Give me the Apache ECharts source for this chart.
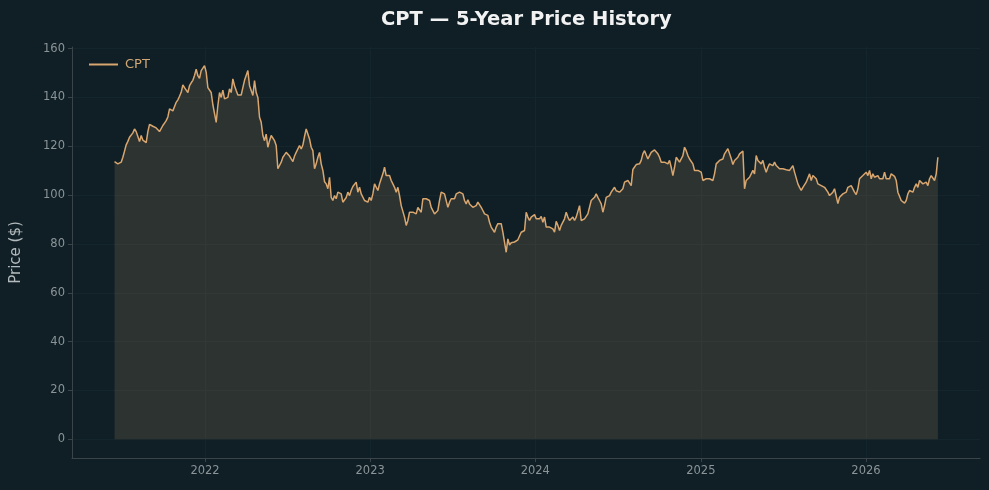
<!DOCTYPE html>
<html>
<head>
<meta charset="utf-8">
<script src="https://cdn.jsdelivr.net/npm/echarts@6/dist/echarts.min.js"></script>
<style>
html,body{margin:0;padding:0;background:#0f1f25;}
#chart{width:989px;height:490px;}
</style>
</head>
<body>
<div id="chart"></div>
<script>
const seriesName = 'CPT';
const startDate = '2021-06-15';
const stepDays = 3.684;
const prices = [
113.7,113.2,112.8,113.5,113.5,115.5,118,120.6,122,123.7,124.5,125.5,127.1,126,124,121.9,124.4,
122.5,121.7,121.5,126,129,129.5,128.2,127.8,127.5,126.8,126,125.7,128.5,129.5,130.5,132,135.3,135.2,134.5,134,
138,139,140.5,142.1,145.1,144,143,142,144.8,146,147,149,151.6,148.9,147.8,151,152,153,150.3,144,
144,142,137,136.5,129.8,136.7,142,140,143,139.4,139.5,140,143.5,142,147.6,144.8,142.8,141,141.5,141,
144,147,146.2,151,144.8,142.8,140.8,146.9,142,140,131.9,129.8,124.4,122.3,125,119.6,122.3,124.4,124.4,122.3,
120.3,110.8,110,113.5,115.5,116.5,117.5,116.8,116,114.8,113.7,116,117.5,118.2,120.3,118.9,120.5,124,127.1,127.5,
123,119.6,118.2,110.8,112.8,115.5,117.5,112.8,110.1,105.5,104.6,102.6,107.3,99.1,97.8,99.8,98.5,101.2,101.8,100.5,
97.1,96.4,99,101.2,99.8,102,103.5,104.2,105.3,101.2,103.2,100.5,101.2,97.8,98.5,97.1,99.1,97.8,100.5,104.6,
103.9,101.9,104.6,106.7,108.7,111.4,108,108.7,108,106,104.6,103.2,101.2,103.2,99.8,95.7,95.7,91,87.6,89.6,
93,93.7,93,93.7,92.3,95,94.3,93,98.5,99.1,98.5,98.8,97.8,95,95.7,92.3,93,93.7,97.8,101.2,
100.5,100.5,99.8,95,97.1,98.5,99.1,98.5,100.5,100.5,101.2,101.6,100.5,97.8,96.4,98.1,96.4,95.7,95,94.6,
95.7,97.1,96.4,95,93.7,92.3,93,91.7,88.9,86.9,86.2,84.8,86.9,88.3,88.9,88.3,84.8,84.8,76.6,82.1,
79.6,80.5,80.8,80.8,81.5,81.7,82.1,84.8,85.5,85.5,93,91,89.6,91,91.6,92,90.3,91,90.3,91.3,
88.9,91,86.9,87.6,86.9,86.2,86.2,84.8,89.3,87.6,85.5,87.6,88.3,90.3,93,91,89.6,90.3,91,89.6,
91,90.3,95.7,89.6,88.9,90.3,91,92.3,93,97.8,98.5,99.1,100.5,99.1,97.8,96.4,93,95.7,99.1,99.5,
99.8,101.2,101.8,103.2,101.8,102.6,101.2,101.8,102.6,105.3,106,106,105.3,103.9,110.5,110.5,112.5,112.8,112.8,114.2,
116.9,118.2,118.9,114.8,116.2,117.5,116.9,118.5,118.9,116.9,115.5,113.5,112.8,113.5,114.2,112.8,114.2,111.4,108,111.4,
115.5,116.2,113.5,114.8,116.2,119.6,118.2,116.2,114.8,114.2,112.8,110.1,110.8,110.1,110.8,109.4,106,105.3,106.7,107.3,
106.7,107.3,106,108.7,112.8,113.5,114.2,113.5,114.8,116.9,117.5,119,118.5,115,112.5,114.2,114.2,115.5,116.9,117.5,
118,102.6,106,106.7,107.3,108.7,110.1,108.7,116.2,114.2,114.8,112.8,114.2,111.4,109.4,111.4,112.8,113,112.1,113.5,
112.1,111.4,110.8,110.1,110.8,110.1,110.4,110.8,110.1,110.8,112.1,109.4,110.1,104.6,103.2,101.9,103.2,103.9,105.3,107,
108.7,106,108,108,106.7,104.6,105.3,103.9,104.6,103.2,103.9,101.2,99.8,99.8,101.2,102.6,101.9,96.5,99.1,99.8,
100.5,100.5,101.2,103.2,103.9,103.9,103.2,101.2,100.2,102.6,106.7,107.3,108,108.7,109.4,108,110.1,106.7,108.7,107.3,
106.7,108,106.7,107.3,106.7,109.4,106.7,107.3,106.7,108.7,108,107.7,106,101.2,100.5,97.8,97.1,96.7,97.8,100.5,
101.9,101.9,101.2,103.2,104.6,103.2,106,105.3,104.6,105.3,105.3,103.9,106.7,108,107.3,106,108.7,115.5
];
const yearTicks = [2022, 2023, 2024, 2025, 2026];
const yTicks = [0, 20, 40, 60, 80, 100, 120, 140, 160];
const xRange = ['2021-03-13', '2026-09-10'];
const yRange = [-7.65, 160.65];

const DAY = 86400000;
const startMs = Date.parse(startDate + 'T00:00:00Z');
const seriesData = prices.map((v, i) => [startMs + i * stepDays * DAY, v]);
const xTickMs = yearTicks.map(y => Date.UTC(y, 0, 1));

const lineColor = '#d9a66f';
const axisColor = '#3b4549';
const gridColor = '#14252b';
const labelColor = '#8b9497';

const chart = echarts.init(document.getElementById('chart'), null, {renderer: 'canvas'});
chart.setOption({
  animation: false,
  backgroundColor: '#0f1f25',
  title: {
    text: 'CPT — 5-Year Price History',
    left: 376,
    top: 5,
    textStyle: {color: '#f2f2f2', fontSize: 19.5, fontWeight: 'bold', fontFamily: 'DejaVu Sans'}
  },
  legend: {
    left: 84,
    top: 53,
    itemWidth: 29,
    itemHeight: 2,
    itemGap: 10,
    data: [{name: seriesName, icon: 'rect'}],
    textStyle: {color: '#d2a877', fontSize: 13, fontFamily: 'DejaVu Sans', padding: [0, 0, 0, 2]}
  },
  grid: {left: 72, right: 9, top: 47, bottom: 32, containLabel: false},
  xAxis: {
    type: 'value',
    min: Date.parse(xRange[0] + 'T00:00:00Z'),
    max: Date.parse(xRange[1] + 'T00:00:00Z'),
    axisLine: {show: true, onZero: false, lineStyle: {color: axisColor, width: 1}},
    axisTick: {show: true, inside: false, length: 4, customValues: xTickMs, lineStyle: {color: axisColor}},
    axisLabel: {
      customValues: xTickMs,
      color: labelColor, fontSize: 11.5, fontFamily: 'DejaVu Sans', margin: 7,
      formatter: v => String(new Date(v).getUTCFullYear())
    },
    splitLine: {show: true, lineStyle: {color: gridColor, width: 1}}
  },
  yAxis: {
    type: 'value',
    min: yRange[0],
    max: yRange[1],
    name: 'Price ($)',
    nameLocation: 'middle',
    nameGap: 48,
    nameTextStyle: {color: '#b3babd', fontSize: 15, fontFamily: 'DejaVu Sans'},
    axisLine: {show: true, onZero: false, lineStyle: {color: axisColor, width: 1}},
    axisTick: {show: true, inside: false, length: 4, customValues: yTicks, lineStyle: {color: axisColor}},
    axisLabel: {
      customValues: yTicks,
      color: labelColor, fontSize: 11.5, fontFamily: 'DejaVu Sans', margin: 7
    },
    splitLine: {show: true, lineStyle: {color: gridColor, width: 1}}
  },
  series: [{
    name: seriesName,
    type: 'line',
    data: seriesData,
    showSymbol: false,
    symbol: 'none',
    lineStyle: {color: lineColor, width: 1.5},
    itemStyle: {color: lineColor},
    areaStyle: {color: lineColor, opacity: 0.15, origin: 0},
    z: 3
  }]
});
</script>
</body>
</html>
